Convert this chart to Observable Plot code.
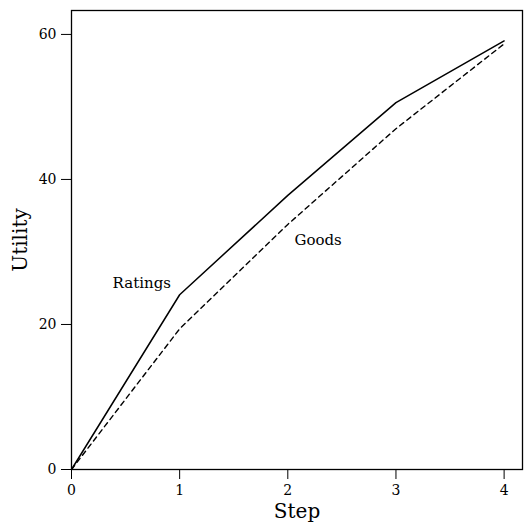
<!DOCTYPE html>
<html>
<head>
<meta charset="utf-8">
<script src="https://cdn.jsdelivr.net/npm/d3@7"></script>
<script src="https://cdn.jsdelivr.net/npm/@observablehq/plot@0.6"></script>
<style>
  body { margin: 0; background: #fff; }
  #chart svg { display: block; }
</style>
</head>
<body>
<div id="chart"></div>
<script>
const steps = [0, 1, 2, 3, 4];
const ratings = [0, 24.1, 37.8, 50.6, 59.1];
const goods = [0, 19.4, 33.8, 47.0, 58.7];
const xTicks = [0, 1, 2, 3, 4];
const yTicks = [0, 20, 40, 60];
const seriesLabels = [
  {text: "Ratings", step: 0.65, value: 25.7},
  {text: "Goods", step: 2.28, value: 31.6}
];

const rData = steps.map((s, i) => ({step: s, value: ratings[i]}));
const gData = steps.map((s, i) => ({step: s, value: goods[i]}));

const font = "'DejaVu Serif', 'Liberation Serif', serif";

const chart = Plot.plot({
  width: 524,
  height: 524,
  marginLeft: 71,
  marginTop: 10,
  marginRight: 2,
  marginBottom: 55,
  style: {fontFamily: font, background: "#fff", color: "#000"},
  x: {domain: [0, 4.17]},
  y: {domain: [0, 63.3]},
  marks: [
    Plot.frame({stroke: "#000", strokeWidth: 1.3}),
    Plot.axisX({ticks: xTicks, tickSize: 10, tickPadding: 6, fontSize: 14, label: null, tickFormat: d3.format("d")}),
    Plot.axisY({ticks: yTicks, tickSize: 10, tickPadding: 5, fontSize: 14, label: null, tickFormat: d3.format("d")}),
    Plot.line(rData, {x: "step", y: "value", stroke: "#000", strokeWidth: 1.5}),
    Plot.line(gData, {x: "step", y: "value", stroke: "#000", strokeWidth: 1.4, strokeDasharray: "5,4"}),
    Plot.text(seriesLabels, {x: "step", y: "value", text: "text", fontSize: 15, fill: "#000"}),
    Plot.text(["Step"], {frameAnchor: "bottom", textAnchor: "middle", lineAnchor: "middle", dy: 42, fontSize: 20, fill: "#000"}),
    Plot.text(["Utility"], {frameAnchor: "left", textAnchor: "middle", lineAnchor: "middle", dx: -51, rotate: -90, fontSize: 20, fill: "#000"})
  ]
});
document.getElementById("chart").appendChild(chart);
</script>
</body>
</html>
